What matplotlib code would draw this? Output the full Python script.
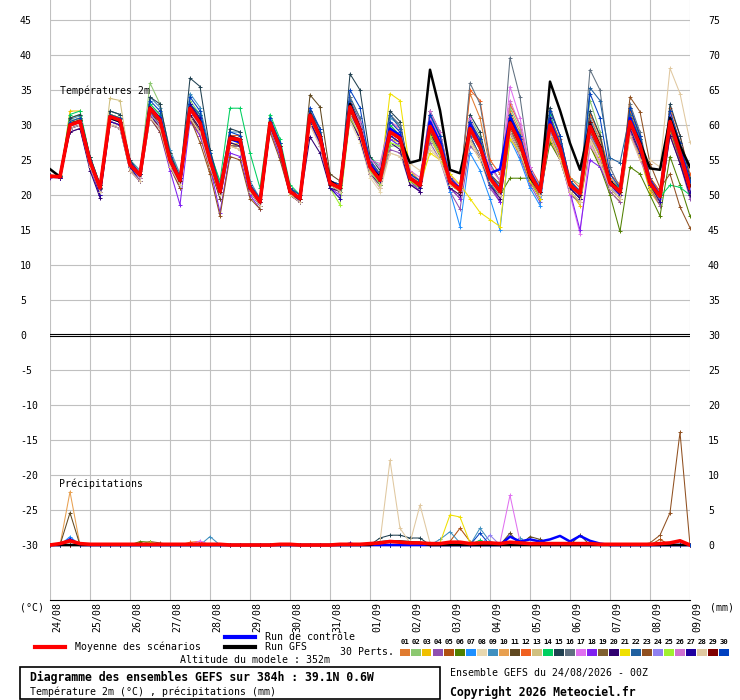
import matplotlib
matplotlib.use("Agg")
import matplotlib.pyplot as plt
import numpy as np
from matplotlib.patches import Rectangle
from matplotlib.lines import Line2D
from matplotlib.transforms import ScaledTranslation

# ---------------- data ----------------
dates = ["24/08", "25/08", "26/08", "27/08", "28/08", "29/08", "30/08", "31/08",
         "01/09", "02/09", "03/09", "04/09", "05/09", "06/09", "07/09", "08/09", "09/09"]
hours = [6 * i for i in range(65)]

temp_mean = [22.7, 22.6, 30.0, 30.5, 24.8, 21.0, 31.2, 30.7, 24.3, 22.9, 32.4, 30.7,
             25.0, 22.1, 32.4, 30.3, 25.0, 20.5, 28.1, 27.9, 21.0, 19.0, 30.3, 26.7,
             20.5, 19.5, 31.4, 28.3, 21.7, 21.0, 32.6, 29.3, 24.0, 22.1, 29.0, 28.1,
             22.4, 21.4, 29.8, 26.9, 21.9, 20.7, 29.5, 26.9, 22.4, 20.5, 30.3, 27.4,
             22.9, 20.5, 30.0, 26.7, 21.4, 20.2, 29.8, 26.7, 21.7, 20.5, 30.5, 27.1,
             21.7, 19.8, 30.5, 26.0, 21.0]
temp_control = [22.7, 22.6, 30.0, 30.5, 25.0, 21.0, 31.0, 30.5, 24.5, 23.0, 32.5, 31.0,
                25.0, 22.0, 32.5, 30.5, 25.0, 20.5, 28.0, 27.5, 21.0, 19.0, 30.0, 26.5,
                20.5, 19.5, 31.5, 28.5, 22.0, 21.0, 33.0, 29.5, 24.5, 22.5, 29.5, 28.5,
                22.5, 21.5, 30.5, 27.5, 22.0, 21.0, 30.0, 27.0, 23.1, 23.7, 31.0, 28.0,
                23.0, 20.5, 30.5, 27.0, 21.5, 20.0, 30.0, 26.5, 22.0, 20.5, 31.0, 27.5,
                22.0, 20.0, 31.0, 26.5, 21.5]
temp_gfs = [23.7, 22.6, 30.0, 30.5, 24.8, 21.0, 31.0, 30.5, 24.3, 22.8, 32.5, 30.8,
            25.0, 22.0, 32.5, 30.5, 25.0, 20.5, 28.0, 27.8, 21.0, 19.0, 30.3, 26.7,
            20.5, 19.5, 31.5, 28.5, 22.0, 21.0, 33.0, 29.5, 24.0, 22.5, 29.0, 28.0,
            24.6, 25.0, 37.9, 32.1, 23.6, 23.1, 29.5, 27.0, 22.5, 20.5, 30.5, 27.5,
            22.5, 20.5, 36.2, 32.1, 27.4, 23.6, 30.0, 27.0, 22.0, 20.5, 30.5, 27.5,
            23.8, 23.6, 31.0, 27.0, 24.0]

temp_p01 = [22.8, 22.5, 30.5, 31.0, 25.0, 21.2, 31.5, 31.0, 24.5, 23.0, 33.0, 31.5, 25.5, 22.5, 33.0, 31.0, 25.5, 21.0, 28.5, 28.0, 21.5, 19.5, 30.5, 27.0, 21.0, 20.0, 32.0, 29.0, 22.0, 21.5, 33.5, 30.5, 25.0, 23.0, 30.5, 29.5, 23.5, 22.0, 31.0, 28.0, 22.5, 21.5, 34.5, 31.0, 24.0, 22.0, 32.0, 29.0, 23.5, 21.0, 31.5, 27.5, 22.0, 20.5, 31.0, 28.0, 22.5, 21.0, 31.5, 28.5, 22.0, 20.0, 32.0, 27.5, 22.0]
temp_p02 = [22.6, 22.7, 31.0, 31.5, 25.5, 21.5, 32.0, 31.5, 25.0, 23.5, 36.0, 33.0, 26.0, 23.0, 33.5, 31.5, 24.5, 20.0, 27.5, 27.0, 20.5, 18.5, 30.0, 26.0, 20.0, 19.0, 30.5, 27.5, 21.0, 20.5, 31.5, 28.0, 23.5, 21.5, 27.0, 27.0, 21.5, 21.0, 28.0, 25.5, 22.5, 21.0, 31.0, 28.5, 23.0, 21.5, 32.5, 29.5, 23.5, 21.5, 31.0, 27.5, 22.5, 21.5, 33.5, 29.0, 22.0, 20.5, 29.0, 25.5, 21.0, 19.0, 29.0, 25.0, 20.5]
temp_p03 = [22.9, 22.5, 32.0, 32.0, 24.0, 20.5, 30.5, 30.0, 24.0, 22.5, 32.0, 30.0, 25.0, 22.0, 32.0, 30.5, 24.5, 20.0, 27.0, 27.5, 21.0, 19.0, 30.0, 26.5, 20.5, 19.5, 31.0, 28.0, 21.5, 20.5, 32.0, 28.5, 24.5, 22.5, 28.0, 27.5, 22.0, 21.0, 28.5, 25.5, 21.0, 19.5, 27.5, 25.0, 21.5, 19.0, 29.0, 26.0, 22.5, 19.5, 28.0, 25.0, 20.5, 18.5, 27.0, 24.5, 20.5, 19.0, 28.5, 25.5, 20.5, 18.5, 29.0, 24.5, 20.0]
temp_p04 = [22.5, 22.4, 29.0, 29.5, 24.0, 20.0, 30.0, 29.5, 23.5, 22.0, 31.5, 29.5, 24.0, 21.0, 31.5, 29.0, 24.0, 19.5, 27.0, 27.0, 20.5, 18.5, 29.5, 25.5, 20.0, 19.0, 30.5, 27.5, 21.0, 20.5, 31.5, 28.0, 23.0, 21.0, 26.5, 26.0, 21.5, 20.5, 27.5, 25.0, 20.5, 18.0, 27.0, 25.5, 21.0, 19.0, 28.5, 25.5, 21.5, 19.0, 29.5, 25.5, 20.0, 19.0, 28.0, 24.5, 20.5, 19.0, 29.0, 26.0, 21.0, 18.5, 28.5, 24.5, 19.5]
temp_p05 = [22.7, 22.6, 30.2, 30.8, 25.0, 21.0, 31.0, 30.5, 24.0, 22.5, 32.0, 29.5, 24.5, 21.5, 31.0, 28.5, 23.5, 20.0, 27.0, 26.5, 20.5, 18.5, 29.5, 26.0, 20.5, 19.5, 31.0, 28.5, 22.0, 21.0, 33.0, 30.0, 24.5, 22.5, 29.5, 28.0, 22.5, 21.5, 30.5, 27.5, 22.0, 20.5, 30.0, 27.5, 23.0, 21.0, 31.5, 28.5, 23.5, 21.0, 30.5, 27.0, 21.5, 20.0, 30.0, 27.0, 22.0, 20.5, 31.0, 27.5, 22.5, 20.5, 31.5, 27.0, 22.0]
temp_p06 = [22.8, 22.8, 30.5, 30.5, 25.0, 21.5, 31.5, 31.0, 24.5, 23.0, 32.5, 31.0, 25.0, 22.0, 32.5, 30.5, 25.0, 20.5, 28.5, 28.0, 21.0, 19.0, 30.5, 27.0, 20.5, 19.5, 31.5, 28.5, 21.5, 20.5, 31.5, 28.0, 23.5, 22.0, 28.5, 27.5, 22.0, 21.0, 29.0, 26.0, 21.5, 20.5, 28.0, 25.5, 21.5, 20.0, 22.4, 22.4, 22.4, 20.0, 27.5, 25.0, 20.5, 19.0, 27.0, 24.0, 20.0, 14.8, 24.0, 23.0, 20.0, 17.0, 25.5, 21.5, 17.0]
temp_p07 = [22.6, 22.5, 29.5, 30.0, 24.5, 20.8, 31.0, 30.5, 24.0, 22.5, 32.5, 31.0, 25.5, 22.5, 33.0, 31.0, 25.5, 21.0, 28.0, 27.5, 21.0, 19.0, 30.0, 26.5, 20.5, 19.5, 31.0, 28.0, 21.5, 21.0, 33.0, 29.5, 23.5, 21.5, 28.0, 27.0, 22.0, 21.0, 29.0, 26.0, 20.5, 15.5, 26.0, 23.5, 19.5, 15.0, 28.0, 25.0, 21.0, 18.5, 29.5, 26.0, 20.5, 19.0, 29.0, 26.0, 21.0, 19.5, 30.0, 26.5, 21.0, 19.0, 30.0, 25.5, 20.5]
temp_p08 = [22.7, 22.7, 30.0, 30.5, 24.5, 20.5, 30.0, 30.0, 24.0, 22.0, 31.5, 30.0, 24.5, 21.5, 31.5, 30.0, 24.0, 20.0, 27.0, 26.5, 20.5, 18.5, 29.5, 26.0, 20.5, 19.0, 30.0, 27.0, 21.0, 20.5, 30.5, 27.5, 22.5, 20.5, 26.0, 25.5, 23.0, 20.5, 27.0, 25.0, 21.0, 20.0, 27.5, 25.0, 21.5, 20.0, 28.5, 26.0, 22.0, 20.5, 28.5, 25.5, 21.0, 20.0, 28.0, 25.0, 21.5, 20.0, 29.0, 26.0, 21.0, 19.5, 29.5, 25.5, 20.5]
temp_p09 = [22.8, 22.7, 30.8, 31.3, 25.5, 21.5, 32.0, 31.5, 25.0, 23.5, 34.0, 32.5, 26.5, 23.0, 34.5, 32.5, 26.5, 21.5, 29.0, 29.0, 22.0, 19.5, 31.0, 27.5, 21.0, 19.5, 32.0, 29.0, 22.0, 21.0, 34.0, 31.0, 24.5, 22.5, 31.0, 30.0, 23.0, 21.5, 31.5, 28.5, 22.5, 21.0, 30.5, 28.0, 22.0, 20.0, 31.0, 28.0, 23.0, 20.0, 31.5, 27.5, 21.0, 19.5, 31.0, 27.5, 21.5, 20.0, 31.0, 27.5, 21.5, 19.5, 31.5, 26.5, 21.5]
temp_p10 = [22.6, 22.5, 30.5, 31.0, 25.0, 21.0, 31.5, 31.0, 24.5, 23.0, 32.5, 30.5, 25.0, 22.0, 32.0, 30.0, 25.0, 20.5, 28.5, 28.0, 21.0, 19.0, 30.5, 27.0, 20.5, 19.5, 31.5, 28.5, 21.5, 21.0, 32.5, 29.0, 24.0, 22.0, 29.5, 28.5, 22.5, 21.5, 30.0, 27.0, 22.0, 21.0, 30.5, 28.0, 23.0, 21.0, 31.0, 28.0, 23.0, 20.5, 30.5, 27.0, 21.5, 20.5, 30.5, 27.5, 22.0, 20.5, 31.5, 28.0, 22.0, 20.0, 32.0, 27.5, 21.5]
temp_p11 = [22.7, 22.6, 30.3, 30.6, 24.5, 20.5, 30.5, 30.0, 24.0, 22.5, 32.0, 30.0, 24.5, 21.5, 31.5, 29.0, 24.0, 19.5, 27.0, 27.0, 20.5, 18.5, 30.5, 27.0, 21.0, 20.0, 34.3, 32.6, 23.0, 22.0, 33.0, 29.5, 24.0, 22.0, 29.0, 28.0, 22.0, 21.0, 30.5, 27.5, 22.0, 21.0, 30.0, 27.5, 23.0, 21.5, 30.5, 27.5, 23.0, 21.0, 30.5, 27.0, 22.0, 20.5, 30.0, 27.0, 22.0, 20.5, 30.5, 27.0, 22.0, 20.0, 30.5, 26.0, 21.0]
temp_p12 = [22.7, 22.6, 30.0, 30.5, 25.0, 21.0, 31.0, 30.5, 24.5, 23.0, 32.5, 31.0, 25.5, 22.5, 33.0, 31.0, 25.5, 21.0, 28.5, 28.5, 21.5, 19.5, 30.5, 27.0, 21.0, 20.0, 31.5, 28.5, 22.0, 21.5, 33.0, 30.0, 24.5, 23.0, 30.0, 28.5, 23.0, 22.0, 30.5, 28.0, 22.5, 21.0, 35.0, 33.5, 25.0, 23.0, 33.0, 30.0, 24.0, 21.5, 31.0, 28.0, 22.5, 21.0, 31.5, 28.5, 23.0, 21.5, 32.0, 28.5, 22.5, 20.5, 32.5, 28.5, 23.0]
temp_p13 = [22.7, 22.6, 31.0, 31.5, 25.0, 21.5, 33.8, 33.5, 24.5, 23.0, 32.0, 30.5, 24.5, 21.5, 31.5, 29.5, 24.5, 20.0, 27.5, 27.0, 20.5, 18.5, 29.5, 26.0, 20.0, 19.0, 30.5, 27.5, 21.5, 20.5, 31.5, 28.5, 23.5, 22.0, 28.5, 27.5, 22.0, 21.0, 29.0, 26.5, 21.5, 20.5, 29.0, 26.5, 22.0, 20.0, 29.5, 26.5, 22.5, 20.5, 29.5, 26.0, 21.0, 20.0, 29.0, 26.0, 21.5, 20.0, 30.0, 26.5, 21.5, 19.5, 30.0, 25.5, 20.5]
temp_p14 = [22.8, 22.7, 31.5, 32.0, 25.5, 21.5, 31.5, 31.0, 24.5, 23.0, 33.0, 31.5, 25.0, 22.5, 33.0, 31.5, 26.0, 22.0, 32.4, 32.4, 26.0, 21.0, 31.5, 28.0, 21.5, 20.0, 31.0, 28.5, 21.5, 21.0, 32.5, 29.5, 25.5, 24.0, 30.0, 28.5, 22.5, 21.5, 29.5, 27.0, 22.0, 21.0, 30.0, 27.0, 22.5, 20.5, 30.5, 27.5, 22.5, 20.5, 31.5, 27.0, 21.5, 20.0, 30.5, 27.0, 22.0, 21.0, 31.5, 28.0, 21.0, 19.7, 21.4, 21.1, 20.0]
temp_p15 = [22.8, 22.7, 31.0, 31.5, 25.5, 21.5, 32.0, 31.5, 25.0, 23.0, 34.0, 33.0, 26.0, 22.5, 36.7, 35.5, 26.5, 21.0, 29.5, 29.0, 21.5, 19.0, 30.5, 27.5, 21.0, 19.5, 32.0, 29.5, 22.0, 21.0, 37.3, 35.0, 25.5, 23.5, 32.0, 30.5, 23.0, 22.0, 32.0, 29.0, 22.5, 21.0, 31.5, 29.0, 23.0, 20.5, 31.5, 28.0, 23.0, 20.5, 32.5, 28.5, 22.0, 20.5, 32.0, 28.5, 22.0, 20.5, 32.5, 28.5, 22.0, 20.0, 33.0, 28.5, 22.5]
temp_p16 = [22.7, 22.6, 30.0, 30.5, 24.5, 21.0, 31.0, 30.5, 24.0, 22.5, 32.0, 30.5, 25.0, 22.0, 32.5, 30.5, 25.0, 20.5, 28.0, 28.0, 21.0, 19.0, 30.0, 26.5, 20.5, 19.5, 31.5, 28.5, 22.0, 21.5, 34.0, 31.0, 25.0, 23.0, 31.5, 30.0, 23.0, 22.0, 31.0, 28.0, 22.5, 21.0, 36.0, 33.0, 24.5, 22.0, 39.6, 34.0, 24.0, 21.0, 31.0, 27.5, 22.0, 20.5, 37.9, 35.0, 24.0, 21.0, 33.0, 29.0, 22.5, 20.0, 31.5, 27.0, 22.0]
temp_p17 = [22.7, 22.6, 30.5, 31.0, 25.0, 21.0, 31.0, 30.5, 24.5, 22.5, 32.0, 30.5, 25.0, 22.0, 32.0, 30.0, 25.0, 20.5, 28.5, 28.0, 21.0, 19.0, 30.5, 26.5, 20.5, 19.5, 31.0, 28.0, 21.5, 21.0, 32.0, 29.0, 25.0, 24.0, 30.5, 29.5, 23.0, 21.5, 31.0, 28.0, 23.0, 21.0, 31.0, 27.5, 24.0, 22.0, 35.5, 31.0, 24.0, 21.0, 29.0, 25.5, 20.0, 14.5, 27.0, 25.0, 21.5, 20.0, 30.0, 26.5, 21.5, 19.5, 31.0, 26.5, 21.0]
temp_p18 = [22.6, 22.5, 29.5, 30.0, 24.0, 20.0, 30.5, 30.0, 23.5, 22.0, 31.0, 29.0, 23.5, 18.6, 30.5, 28.5, 24.0, 17.5, 26.0, 25.5, 20.0, 18.0, 29.5, 25.5, 20.0, 19.0, 30.5, 27.0, 21.0, 20.0, 31.5, 28.0, 23.0, 21.5, 28.0, 27.0, 22.0, 20.5, 28.5, 26.0, 21.0, 19.5, 28.5, 25.5, 21.5, 19.0, 29.0, 26.0, 22.0, 19.5, 28.5, 25.0, 20.5, 15.0, 25.0, 24.0, 21.0, 19.5, 29.5, 26.0, 21.0, 19.0, 29.5, 25.0, 20.0]
temp_p19 = [22.7, 22.6, 30.0, 30.5, 24.5, 20.8, 31.0, 30.5, 24.0, 22.5, 32.0, 30.5, 25.0, 21.5, 31.5, 29.5, 24.5, 20.0, 28.0, 27.5, 21.0, 19.0, 30.0, 26.5, 20.5, 19.5, 31.0, 28.0, 21.5, 20.5, 32.0, 29.0, 24.0, 22.0, 28.5, 27.5, 22.5, 21.0, 29.5, 26.5, 21.5, 20.5, 29.0, 26.5, 22.5, 20.0, 29.5, 26.5, 22.5, 20.0, 28.5, 25.5, 21.0, 19.5, 28.5, 26.0, 21.5, 20.0, 30.0, 26.5, 21.5, 19.5, 29.5, 25.0, 20.5]
temp_p20 = [22.6, 22.5, 29.0, 29.5, 23.5, 19.6, 30.0, 29.5, 23.5, 22.0, 31.5, 29.5, 24.5, 21.5, 31.5, 29.5, 24.5, 20.0, 27.5, 27.0, 20.5, 18.5, 29.5, 26.0, 20.0, 19.0, 28.3, 26.0, 21.0, 20.5, 31.0, 28.0, 23.0, 21.5, 27.5, 26.5, 21.5, 20.5, 29.0, 26.0, 21.0, 20.0, 28.5, 25.5, 21.5, 19.5, 29.0, 26.0, 22.0, 19.5, 29.0, 25.5, 21.0, 19.5, 28.5, 25.5, 21.0, 19.5, 29.0, 26.0, 21.0, 19.0, 28.5, 24.5, 20.0]
temp_p21 = [22.7, 22.6, 30.5, 31.0, 25.0, 21.0, 31.5, 31.0, 24.5, 23.0, 32.5, 31.0, 25.0, 22.0, 32.5, 30.5, 25.0, 20.5, 28.0, 28.0, 21.0, 19.0, 30.0, 26.5, 20.5, 19.5, 31.5, 28.5, 21.5, 21.0, 32.5, 29.5, 24.0, 22.0, 34.5, 33.5, 23.5, 21.5, 26.0, 25.0, 23.0, 21.5, 19.5, 17.5, 16.5, 15.5, 28.0, 26.0, 22.0, 19.5, 29.0, 25.5, 20.5, 19.0, 28.5, 25.5, 21.0, 19.5, 29.5, 26.0, 21.0, 19.0, 30.0, 25.5, 20.5]
temp_p22 = [22.7, 22.6, 30.2, 30.7, 25.0, 21.0, 31.3, 30.8, 24.5, 23.0, 32.5, 31.0, 25.0, 22.0, 33.0, 31.5, 25.5, 21.0, 28.5, 28.0, 21.0, 19.0, 30.5, 27.0, 20.5, 19.5, 31.5, 28.5, 22.0, 21.0, 33.5, 30.5, 25.0, 23.0, 31.5, 29.5, 23.0, 22.0, 31.5, 28.5, 22.0, 20.5, 28.5, 25.5, 21.5, 20.0, 30.0, 27.0, 22.5, 20.0, 30.5, 27.0, 22.0, 20.5, 35.3, 33.5, 25.3, 24.6, 31.5, 28.0, 21.5, 19.5, 31.0, 26.5, 21.0]
temp_p23 = [22.7, 22.6, 29.5, 30.0, 24.5, 20.5, 30.5, 30.0, 23.5, 22.0, 31.0, 29.0, 24.0, 21.0, 31.0, 27.5, 23.0, 17.0, 25.5, 25.0, 19.5, 18.0, 29.0, 25.0, 20.0, 19.0, 30.5, 27.5, 21.5, 20.5, 32.0, 29.0, 24.0, 22.0, 28.5, 27.5, 22.0, 21.0, 29.0, 26.5, 21.5, 20.5, 29.0, 26.5, 22.0, 20.0, 30.0, 27.0, 22.5, 20.0, 29.5, 26.0, 21.0, 19.5, 29.0, 26.0, 21.5, 20.0, 34.0, 31.9, 24.5, 21.0, 23.0, 18.3, 15.3]
temp_p24 = [22.7, 22.6, 30.0, 30.5, 24.5, 21.0, 30.5, 30.0, 24.0, 22.5, 31.5, 30.0, 24.5, 21.5, 32.0, 30.0, 25.0, 20.5, 28.0, 27.5, 21.0, 19.0, 30.0, 26.5, 20.5, 19.5, 31.0, 28.0, 21.5, 21.0, 32.5, 29.0, 24.0, 22.0, 28.5, 27.5, 22.5, 21.5, 29.5, 27.0, 22.0, 20.5, 29.0, 26.5, 22.5, 20.5, 30.5, 27.5, 23.0, 20.5, 29.0, 26.0, 21.5, 20.0, 28.5, 26.0, 21.0, 20.0, 30.0, 26.5, 21.5, 19.5, 30.5, 26.0, 21.0]
temp_p25 = [22.7, 22.6, 30.5, 31.0, 25.0, 21.0, 31.5, 31.0, 24.5, 22.5, 32.5, 30.5, 25.0, 21.5, 32.5, 30.0, 24.5, 20.0, 28.0, 27.5, 20.5, 18.5, 30.0, 26.5, 20.0, 19.5, 30.5, 28.0, 21.0, 18.6, 31.0, 28.5, 23.5, 21.5, 27.5, 27.0, 22.0, 21.0, 28.5, 26.0, 21.5, 20.5, 29.5, 26.5, 22.0, 20.5, 30.5, 27.0, 23.0, 21.0, 31.0, 27.0, 21.5, 20.5, 30.5, 27.0, 22.0, 20.5, 31.0, 27.5, 22.0, 20.0, 31.0, 26.5, 21.5]
temp_p26 = [22.7, 22.6, 30.0, 30.5, 24.5, 20.5, 30.5, 30.0, 24.0, 22.5, 32.5, 31.0, 25.0, 22.0, 32.5, 30.0, 25.0, 20.5, 28.0, 27.5, 21.0, 19.0, 30.0, 26.5, 20.5, 19.5, 31.0, 28.0, 22.0, 21.0, 33.0, 30.5, 25.0, 24.5, 30.5, 29.0, 23.5, 22.5, 32.0, 29.0, 22.5, 21.0, 30.0, 27.5, 23.0, 21.0, 33.5, 30.0, 23.0, 21.0, 30.5, 27.0, 21.5, 20.5, 30.0, 27.0, 21.5, 20.0, 29.0, 25.0, 22.0, 20.0, 31.5, 27.0, 21.5]
temp_p27 = [22.6, 22.5, 29.5, 30.0, 24.5, 20.0, 30.5, 30.0, 24.0, 22.0, 32.0, 30.5, 25.5, 22.5, 33.0, 31.0, 25.0, 20.0, 28.0, 27.5, 20.5, 18.5, 30.0, 26.5, 20.5, 19.0, 30.5, 27.5, 21.0, 19.5, 31.5, 29.0, 24.0, 22.0, 28.5, 27.5, 22.5, 21.0, 30.0, 27.5, 22.0, 20.5, 30.5, 27.5, 22.5, 20.0, 31.0, 28.0, 23.0, 20.5, 31.0, 27.0, 21.0, 19.5, 30.5, 27.0, 21.5, 20.0, 29.5, 26.0, 21.5, 19.0, 30.0, 25.5, 20.5]
temp_p28 = [22.7, 22.6, 29.5, 30.0, 24.0, 20.5, 30.0, 29.5, 23.5, 22.0, 31.0, 29.5, 24.0, 21.5, 31.0, 29.0, 24.0, 20.0, 27.0, 26.5, 20.5, 18.5, 29.5, 26.0, 20.0, 19.0, 30.0, 27.0, 21.5, 20.5, 31.5, 28.5, 23.0, 21.0, 26.0, 25.5, 24.5, 23.5, 26.5, 25.0, 21.5, 20.5, 28.0, 25.5, 22.0, 20.0, 29.0, 26.0, 22.5, 20.0, 28.5, 25.0, 20.5, 19.0, 27.5, 24.5, 21.0, 19.5, 28.5, 25.0, 25.0, 24.0, 38.1, 34.5, 27.6]
temp_p29 = [22.7, 22.6, 30.2, 30.7, 25.0, 21.0, 31.0, 30.5, 24.5, 23.0, 32.5, 31.0, 25.0, 22.0, 32.5, 30.5, 25.0, 20.5, 28.5, 28.0, 21.0, 19.0, 30.5, 27.0, 20.5, 19.5, 31.5, 28.5, 21.5, 21.0, 33.0, 29.5, 24.5, 22.5, 29.5, 28.5, 22.5, 21.5, 30.0, 27.0, 22.0, 20.5, 29.5, 27.0, 22.5, 20.5, 30.0, 27.0, 23.0, 20.5, 30.5, 27.0, 21.5, 20.0, 30.5, 27.0, 22.0, 20.5, 31.0, 27.5, 22.0, 20.0, 31.0, 26.5, 21.5]
temp_p30 = [22.8, 22.7, 30.5, 31.0, 25.0, 21.0, 31.5, 31.0, 24.5, 23.0, 33.5, 32.0, 25.5, 22.5, 34.0, 32.0, 26.0, 21.0, 29.0, 28.5, 21.5, 19.5, 31.0, 27.5, 21.0, 20.0, 32.5, 29.5, 22.0, 21.5, 35.0, 32.5, 24.5, 22.5, 30.5, 29.0, 23.0, 22.0, 31.5, 28.5, 22.5, 21.0, 30.5, 28.0, 23.0, 21.0, 31.5, 28.5, 23.5, 21.0, 32.0, 28.5, 22.0, 20.5, 34.5, 31.0, 23.0, 21.0, 32.5, 28.5, 22.0, 20.0, 32.0, 27.5, 22.0]

member_colors = ["#E07B30", "#8CC870", "#F0C000", "#9050B0", "#B05010", "#508000",
                 "#1E90FF", "#E8D8B0", "#4090C0", "#E8A050", "#604820", "#F06020",
                 "#D0C080", "#00D060", "#204050", "#607080", "#E070F0", "#8020F0",
                 "#806030", "#300070", "#F0E000", "#2060A0", "#905020", "#9080F0",
                 "#A0F030", "#D070D0", "#2000A0", "#E0C8A0", "#800000", "#0040C0"]

# precipitation (mm per 6 h): member -> {time index: value}; all other steps 0
precip_events = {
    1: {2: 0.5},
    3: {2: 0.8},
    5: {40: 0.5, 41: 2.4, 42: 0.5, 61: 0.8},
    6: {9: 0.5, 10: 0.4},
    7: {2: 1.2},
    9: {16: 1.2, 39: 0.8, 40: 1.9, 41: 0.3, 43: 2.4, 44: 0.5, 47: 1.0},
    10: {2: 7.6},
    11: {2: 4.6, 46: 1.7, 48: 1.2, 49: 0.8, 53: 1.4},
    12: {14: 0.4, 15: 0.5},
    14: {43: 0.7, 47: 0.5},
    15: {33: 1.0, 34: 1.4, 35: 1.4, 36: 1.0, 37: 1.0},
    17: {15: 0.6, 45: 0.3, 46: 7.1, 47: 0.5},
    19: {10: 0.5, 11: 0.3},
    21: {39: 0.3, 40: 4.3, 41: 4.0, 42: 0.3},
    23: {60: 0.3, 61: 1.4, 62: 4.6, 63: 16.1},
    24: {44: 1.4},
    25: {2: 0.5, 10: 0.4},
    26: {63: 0.6},
    27: {30: 0.3},
    28: {33: 0.5, 34: 12.1, 35: 2.4, 36: 0.3, 37: 5.7, 38: 0.3},
    30: {2: 0.9, 43: 1.7},
}
precip_control = {2: 0.8, 46: 1.2, 47: 0.5, 48: 0.8, 49: 0.5, 50: 0.8, 51: 1.3,
                  52: 0.5, 53: 1.3, 54: 0.6, 55: 0.2}
precip_gfs = {33: 0.4, 34: 0.5, 35: 0.5, 36: 0.4, 37: 0.3}
precip_mean = [0.0, 0.2, 0.6, 0.2, 0.1, 0.1, 0.1, 0.1, 0.1, 0.1, 0.1, 0.1, 0.1, 0.1,
               0.1, 0.1, 0.1, 0.1, 0.0, 0.0, 0.0, 0.0, 0.0, 0.1, 0.1, 0.0, 0.0, 0.0,
               0.0, 0.1, 0.1, 0.1, 0.2, 0.3, 0.5, 0.4, 0.3, 0.3, 0.2, 0.2, 0.4, 0.4,
               0.2, 0.3, 0.3, 0.2, 0.4, 0.3, 0.2, 0.2, 0.2, 0.2, 0.2, 0.2, 0.2, 0.1,
               0.1, 0.1, 0.1, 0.1, 0.1, 0.2, 0.3, 0.6, 0.0]

member_temps = [temp_p01, temp_p02, temp_p03, temp_p04, temp_p05, temp_p06, temp_p07,
                temp_p08, temp_p09, temp_p10, temp_p11, temp_p12, temp_p13, temp_p14,
                temp_p15, temp_p16, temp_p17, temp_p18, temp_p19, temp_p20, temp_p21,
                temp_p22, temp_p23, temp_p24, temp_p25, temp_p26, temp_p27, temp_p28,
                temp_p29, temp_p30]

PRECIP_OFFSET = 30  # precipitation 0 mm is drawn at -30 on the temperature scale


def precip_series(events):
    arr = np.zeros(len(hours))
    for k, v in events.items():
        arr[k] = v
    return arr - PRECIP_OFFSET


# ---------------- figure ----------------
W, H = 740, 700
fig = plt.figure(figsize=(W / 100, H / 100), dpi=100)
MONO = "DejaVu Sans Mono"
FS = 7.1


def fx(x):
    return x / W


def fy(y):
    return 1 - y / H


ax = fig.add_axes([fx(50), fy(600), 640 / W, 600 / H])
ylo, yhi = -(600 - 335) / 7, 335 / 7
ax.set_xlim(0, 384)
ax.set_ylim(ylo, yhi)

grid_c = "#C0C0C0"
for v in range(-30, 50, 5):
    if v != 0:
        ax.axhline(v, color=grid_c, lw=0.8, zorder=0)
for h in range(0, 385, 24):
    ax.axvline(h, color=grid_c, lw=0.8, zorder=0)
ax.axhline(0.15, color="black", lw=0.8, zorder=1)
ax.axhline(-0.15, color="black", lw=0.8, zorder=1)

for i, (t, c) in enumerate(zip(member_temps, member_colors)):
    ax.plot(hours, t, color=c, lw=0.75, marker="+", ms=3, mew=0.7, zorder=2)
    ax.plot(hours, precip_series(precip_events.get(i + 1, {})), color=c, lw=0.75,
            marker="+", ms=3, mew=0.7, zorder=2)

ax.plot(hours, temp_control, color="#0000FF", lw=1.8, zorder=3)
ax.plot(hours, precip_series(precip_control), color="#0000FF", lw=1.8, zorder=3)
ax.plot(hours, temp_gfs, color="black", lw=1.8, zorder=3.5)
ax.plot(hours, precip_series(precip_gfs), color="black", lw=1.8, zorder=3.5)
ax.plot(hours, temp_mean, color="#FF0000", lw=2.6, zorder=4)
ax.plot(hours, np.array(precip_mean) - PRECIP_OFFSET, color="#FF0000", lw=2.6, zorder=4)

for s in ["top", "left", "right"]:
    ax.spines[s].set_visible(False)
ax.spines["bottom"].set_color("black")
ax.spines["bottom"].set_linewidth(0.8)

# x ticks (dates)
ax.set_xticks(range(0, 385, 24))
ax.set_xticklabels(dates, rotation=90, ha="left", va="top", fontfamily=MONO, fontsize=FS)
ax.tick_params(axis="x", length=0, pad=1.5)
off = ScaledTranslation(2 / 100, 0, fig.dpi_scale_trans)
for lab in ax.get_xticklabels():
    lab.set_transform(lab.get_transform() + off)

# left y ticks
yt = list(range(45, -35, -5))
ax.set_yticks(yt)
ax.set_yticklabels([str(v) for v in yt], fontfamily=MONO, fontsize=FS, ha="left")
ax.tick_params(axis="y", length=0, pad=30 * 0.72)

# right y ticks (precip scale = temp + 30)
ax2 = ax.twinx()
ax2.set_ylim(ylo + PRECIP_OFFSET, yhi + PRECIP_OFFSET)
rt = list(range(75, -5, -5))
ax2.set_yticks(rt)
ax2.set_yticklabels([str(v) for v in rt], fontfamily=MONO, fontsize=FS)
ax2.tick_params(axis="y", length=0, pad=18 * 0.72)
for s in ax2.spines.values():
    s.set_visible(False)

ax.text(60, 0, "", transform=ax.transData)
fig.text(fx(60), fy(91), "Températures 2m", fontfamily=MONO, fontsize=FS, va="center", ha="left")
fig.text(fx(59), fy(484), "Précipitations", fontfamily=MONO, fontsize=FS, va="center", ha="left")
fig.text(fx(20), fy(607), "(°C)", fontfamily=MONO, fontsize=FS, va="center", ha="left")
fig.text(fx(710), fy(607), "(mm)", fontfamily=MONO, fontsize=FS, va="center", ha="left")

# legend
fig.add_artist(Line2D([fx(35), fx(65)], [fy(647), fy(647)], color="#FF0000", lw=3.0))
fig.text(fx(75), fy(647), "Moyenne des scénarios", fontfamily=MONO, fontsize=FS, va="center")
fig.add_artist(Line2D([fx(225), fx(255)], [fy(637), fy(637)], color="#0000FF", lw=3.0))
fig.text(fx(265), fy(637), "Run de contrôle", fontfamily=MONO, fontsize=FS, va="center")
fig.add_artist(Line2D([fx(225), fx(255)], [fy(647), fy(647)], color="black", lw=3.0))
fig.text(fx(265), fy(647), "Run GFS", fontfamily=MONO, fontsize=FS, va="center")
fig.text(fx(180), fy(660), "Altitude du modele : 352m", fontfamily=MONO, fontsize=FS, va="center")
fig.text(fx(340), fy(652), "30 Perts.", fontfamily=MONO, fontsize=FS, va="center")

for i, c in enumerate(member_colors):
    x0 = 400 + 11 * i
    fig.add_artist(Rectangle((fx(x0), fy(656)), 9.5 / W, 7 / H, facecolor=c,
                             edgecolor="none", transform=fig.transFigure))
    fig.text(fx(x0 + 4.75), fy(642), f"{i + 1:02d}", fontfamily=MONO, fontsize=5.2,
             fontweight="bold", ha="center", va="center")

fig.add_artist(Rectangle((fx(20), fy(699)), 420 / W, 32 / H, facecolor="none",
                         edgecolor="black", lw=1.2, transform=fig.transFigure))
fig.text(fx(30), fy(677), "Diagramme des ensembles GEFS sur 384h : 39.1N 0.6W",
         fontfamily=MONO, fontsize=8.3, fontweight="bold", va="center")
fig.text(fx(30), fy(692), "Température 2m (°C) , précipitations (mm)",
         fontfamily=MONO, fontsize=FS, va="center")
fig.text(fx(450), fy(673), "Ensemble GEFS du 24/08/2026 - 00Z",
         fontfamily=MONO, fontsize=FS, va="center")
fig.text(fx(450), fy(692), "Copyright 2026 Meteociel.fr",
         fontfamily=MONO, fontsize=8.3, fontweight="bold", va="center")

fig.savefig("out.png", dpi=100)
